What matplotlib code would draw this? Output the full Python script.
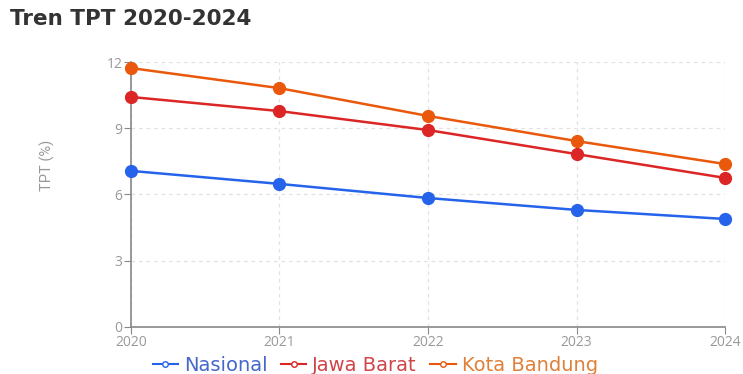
import matplotlib.pyplot as plt
from matplotlib.lines import Line2D

# Data
years = [2020, 2021, 2022, 2023, 2024]
nasional = [7.07, 6.48, 5.84, 5.30, 4.89]
jawa_barat = [10.42, 9.78, 8.92, 7.83, 6.75]
kota_bandung = [11.73, 10.82, 9.56, 8.42, 7.38]

series = [
    ("Nasional", nasional, "#2563eb", "#4468cc"),
    ("Jawa Barat", jawa_barat, "#dc2626", "#d0454a"),
    ("Kota Bandung", kota_bandung, "#ea580c", "#e0803a"),
]

plt.rcParams['font.family'] = ['Open Sans', 'DejaVu Sans']

fig = plt.figure(figsize=(7.43, 3.74), dpi=100)
ax = fig.add_axes([0.176, 0.126, 0.8, 0.708])

for name, vals, col, _ in series:
    ax.plot(years, vals, color=col, linewidth=1.8, marker="o", markersize=8.5,
            label=name, zorder=3, clip_on=False)

ax.set_xlim(2020, 2024)
ax.set_ylim(0, 12)
ax.set_xticks(years)
ax.set_yticks([0, 3, 6, 9, 12])

ax.grid(True, linestyle=(0, (3, 3)), color="#e2e2e2", linewidth=0.9)
for side in ["top", "right"]:
    ax.spines[side].set_visible(False)
for side in ["left", "bottom"]:
    ax.spines[side].set_color("#888888")
    ax.spines[side].set_linewidth(1.2)

ax.tick_params(colors="#888888", labelcolor="#999999", labelsize=10, length=5, pad=1)
ax.set_ylabel("TPT (%)", color="#999999", fontsize=10.5, family="Roboto")
ax.yaxis.set_label_coords(-0.127, 0.61)

fig.text(0.013, 0.95, "Tren TPT 2020-2024", fontsize=15.5, fontweight="bold",
         color="#333333", va="center", ha="left", family="DejaVu Sans")

handles = [Line2D([0], [0], color=col, marker="o", markersize=4, markerfacecolor="white",
                  markeredgecolor=col, linewidth=1.5) for _, _, col, _ in series]
leg = fig.legend(handles, [s[0] for s in series], loc="center", bbox_to_anchor=(0.505, 0.024),
                 ncol=3, frameon=False, handlelength=1.3, handletextpad=0.3,
                 columnspacing=0.7, prop={"family": "DejaVu Sans", "size": 14})
for txt, (_, _, _, tcol) in zip(leg.get_texts(), series):
    txt.set_color(tcol)

fig.savefig("out.png", dpi=100)
